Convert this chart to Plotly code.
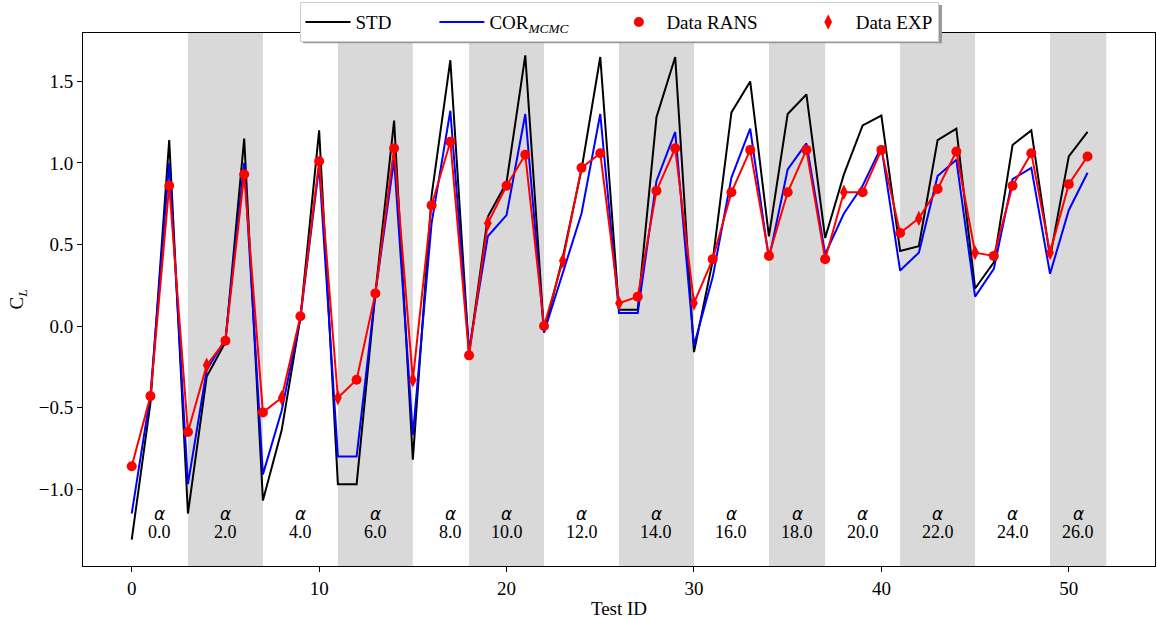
import plotly.graph_objects as go

test_id = list(range(52))
std = [-1.31, -0.47, 1.14, -1.15, -0.31, -0.10, 1.15, -1.07, -0.64, 0.05,
       1.20, -0.97, -0.97, 0.20, 1.26, -0.82, 0.80, 1.63, -0.17, 0.67,
       0.88, 1.66, -0.04, 0.42, 0.96, 1.65, 0.10, 0.10, 1.28, 1.65,
       -0.16, 0.40, 1.31, 1.50, 0.55, 1.30, 1.42, 0.54, 0.93, 1.23,
       1.29, 0.46, 0.49, 1.14, 1.21, 0.23, 0.39, 1.11, 1.20, 0.42,
       1.04, 1.19]
cor = [-1.15, -0.42, 1.00, -0.97, -0.27, -0.08, 1.00, -0.91, -0.52, 0.05,
       0.98, -0.80, -0.80, 0.20, 1.02, -0.67, 0.63, 1.32, -0.15, 0.55,
       0.68, 1.30, -0.04, 0.33, 0.69, 1.30, 0.08, 0.08, 0.89, 1.19,
       -0.12, 0.30, 0.91, 1.21, 0.41, 0.96, 1.12, 0.44, 0.69, 0.86,
       1.10, 0.34, 0.45, 0.92, 1.02, 0.18, 0.35, 0.90, 0.97, 0.32,
       0.71, 0.94]
data = [-0.86, -0.43, 0.86, -0.65, -0.24, -0.09, 0.93, -0.53, -0.44, 0.06,
        1.01, -0.44, -0.33, 0.20, 1.09, -0.33, 0.74, 1.13, -0.18, 0.63,
        0.86, 1.05, 0.00, 0.40, 0.97, 1.06, 0.14, 0.18, 0.83, 1.09,
        0.14, 0.41, 0.82, 1.08, 0.43, 0.82, 1.08, 0.41, 0.82, 0.82,
        1.08, 0.57, 0.66, 0.84, 1.07, 0.45, 0.43, 0.86, 1.06, 0.45,
        0.87, 1.04]
exp_ids = [4, 8, 11, 15, 19, 23, 26, 30, 38, 42, 45, 49]
rans_ids = [i for i in test_id if i not in exp_ids]

alpha_labels = ["0.0", "2.0", "4.0", "6.0", "8.0", "10.0", "12.0", "14.0",
                "16.0", "18.0", "20.0", "22.0", "24.0", "26.0"]
alpha_pos = [1.5, 5, 9, 13, 17, 20, 24, 28, 32, 35.5, 39, 43, 47, 50.5]
bands = [(3, 7), (11, 15), (18, 22), (26, 30), (34, 37), (41, 45), (49, 52)]

serif = "Liberation Serif"
pad = "\u00a0" * 8
fig = go.Figure()
fig.add_trace(go.Scatter(x=test_id, y=std, mode="lines", name="STD" + pad,
                         line=dict(color="black", width=2)))
fig.add_trace(go.Scatter(x=test_id, y=cor, mode="lines",
                         name="COR<sub><i>MCMC</i></sub>" + pad,
                         line=dict(color="#0000ff", width=2)))
fig.add_trace(go.Scatter(x=test_id, y=data, mode="lines", showlegend=False,
                         line=dict(color="#ff0000", width=2)))
fig.add_trace(go.Scatter(x=rans_ids, y=[data[i] for i in rans_ids], mode="markers",
                         name="Data RANS" + pad,
                         marker=dict(color="#ff0000", size=10, symbol="circle")))
fig.add_trace(go.Scatter(x=exp_ids, y=[data[i] for i in exp_ids], mode="markers",
                         name="Data EXP",
                         marker=dict(color="#ff0000", size=11, symbol="diamond-tall")))

for a, b in bands:
    fig.add_shape(type="rect", xref="x", yref="paper", x0=a, x1=b, y0=0, y1=1,
                  fillcolor="#d9d9d9", line=dict(width=0), layer="below")

for p, lab in zip(alpha_pos, alpha_labels):
    fig.add_annotation(x=p, y=-1.15, xref="x", yref="y", text="<i>α</i>",
                       showarrow=False, font=dict(family="DejaVu Sans", size=17, color="black"))
    fig.add_annotation(x=p, y=-1.265, xref="x", yref="y", text=lab,
                       showarrow=False, font=dict(family=serif, size=18, color="black"))

# legend shadow
fig.add_shape(type="rect", xref="paper", yref="paper", x0=0.2052, x1=0.8013,
              y0=0.981, y1=1.0525, fillcolor="#999999", line=dict(width=0), layer="above")

yt = [-1.0, -0.5, 0.0, 0.5, 1.0, 1.5]
fig.update_layout(
    width=1157, height=619,
    margin=dict(l=83, r=2, t=33, b=53),
    plot_bgcolor="white", paper_bgcolor="white",
    font=dict(family=serif, size=19, color="black"),
    showlegend=True,
    legend=dict(orientation="h", x=0.5, xanchor="center", y=1.058, yanchor="top",
                bgcolor="white", bordercolor="#cccccc", borderwidth=1,
                font=dict(family=serif, size=19), itemwidth=45),
    xaxis=dict(range=[-2.6, 54.6], tickvals=[0, 10, 20, 30, 40, 50],
               showgrid=False, zeroline=False, showline=True, linecolor="black",
               linewidth=1, mirror=True, ticks="outside", ticklen=5, tickcolor="black",
               title=dict(text="Test ID", font=dict(size=19), standoff=6)),
    yaxis=dict(range=[-1.472, 1.797], tickvals=yt,
               ticktext=[("−" if v < 0 else "") + f"{abs(v):.1f}" for v in yt],
               showgrid=False, zeroline=False, showline=True, linecolor="black",
               linewidth=1, mirror=True, ticks="outside", ticklen=5, tickcolor="black",
               title=dict(text="C<sub><i>L</i></sub>", font=dict(size=19), standoff=10)),
)
fig.write_html("out.html", post_script="document.body.style.margin='0';",
               config={"displayModeBar": False})
